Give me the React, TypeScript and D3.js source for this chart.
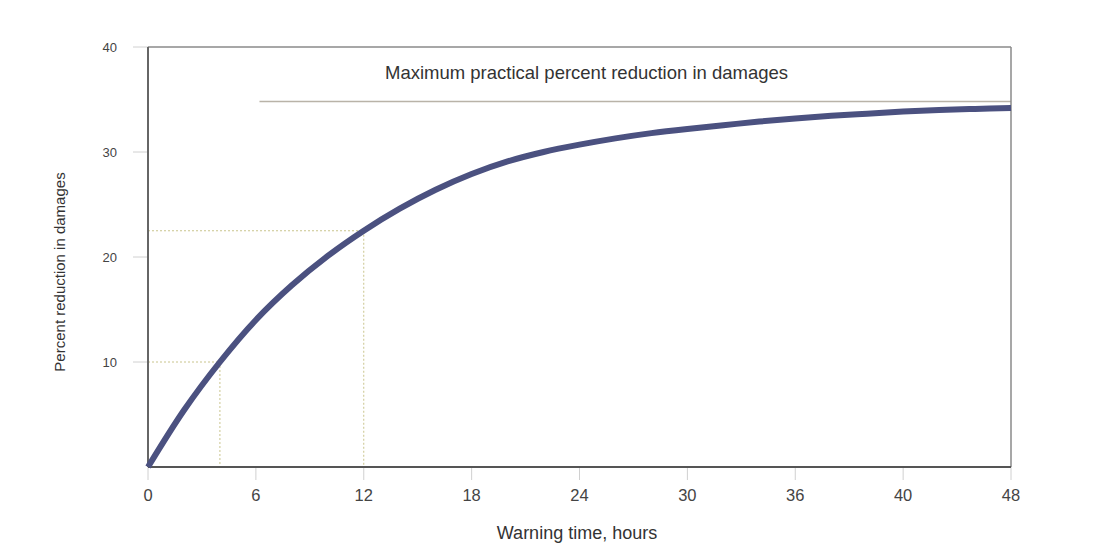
import React from "react";
import * as d3 from "d3";

const hours = [0, 2, 4, 6, 8, 10, 12, 14, 16, 18, 20, 22, 24, 26, 28, 30, 32, 34, 36, 38, 40, 42, 44, 46, 48];
const reduction = [0, 5.4, 10.0, 14.0, 17.3, 20.1, 22.5, 24.6, 26.4, 27.9, 29.1, 30.0, 30.7, 31.3, 31.8, 32.2, 32.55, 32.9, 33.2, 33.45, 33.65, 33.85, 34.0, 34.1, 34.2];

const xTickValues = [0, 6, 12, 18, 24, 30, 36, 42, 48];
const xTickLabels = ["0", "6", "12", "18", "24", "30", "36", "40", "48"];
const yTickValues = [10, 20, 30, 40];
const yTickLabels = ["10", "20", "30", "40"];

const maxPractical = 34.8;
const maxLineStart = 6.2;
const guides = [
  { t: 4, v: 10 },
  { t: 12, v: 22.5 },
];

const annotation = "Maximum practical percent reduction in damages";
const xTitle = "Warning time, hours";
const yTitle = "Percent reduction in damages";

const W = 1105;
const H = 555;
const M = { left: 148, right: 1011, top: 47, bottom: 467 };

export default function App() {
  const x = d3.scaleLinear().domain([0, 48]).range([M.left, M.right]);
  const y = d3.scaleLinear().domain([0, 40]).range([M.bottom, M.top]);
  const pts = hours.map((h, i) => [h, reduction[i]] as [number, number]);
  const line = d3
    .line<[number, number]>()
    .x((d) => x(d[0]))
    .y((d) => y(d[1]))
    .curve(d3.curveCatmullRom.alpha(0.5));
  const font = "Liberation Sans, Arial, sans-serif";
  return (
    <svg
      width={W}
      height={H}
      style={{ position: "absolute", left: 0, top: 0, background: "#fff" }}
      fontFamily={font}
    >
      <rect x={0} y={0} width={W} height={H} fill="#ffffff" />
      {/* y ticks */}
      {yTickValues.map((v, i) => (
        <g key={"y" + v}>
          <line x1={M.left - 15} x2={M.left} y1={y(v)} y2={y(v)} stroke="#d0d0d0" strokeWidth={1} />
          <text x={117} y={y(v)} dy="0.35em" textAnchor="end" fontSize={13} fill="#444">
            {yTickLabels[i]}
          </text>
        </g>
      ))}
      {/* x ticks */}
      {xTickValues.map((v, i) => (
        <g key={"x" + v}>
          <line x1={x(v)} x2={x(v)} y1={M.bottom} y2={M.bottom + 13} stroke="#d0d0d0" strokeWidth={1} />
          <text x={x(v)} y={495} dy="0.35em" textAnchor="middle" fontSize={16.5} fill="#444">
            {xTickLabels[i]}
          </text>
        </g>
      ))}
      {/* guides */}
      {guides.map((g) => (
        <g key={"g" + g.t}>
          <line x1={M.left} x2={x(g.t)} y1={y(g.v)} y2={y(g.v)} stroke="#c9c48c" strokeWidth={1} strokeDasharray="2,2" />
          <line x1={x(g.t)} x2={x(g.t)} y1={y(g.v)} y2={M.bottom} stroke="#c9c48c" strokeWidth={1} strokeDasharray="2,2" />
        </g>
      ))}
      {/* max practical line */}
      <line
        x1={x(maxLineStart)}
        x2={M.right}
        y1={y(maxPractical)}
        y2={y(maxPractical)}
        stroke="#b9b3a8"
        strokeWidth={1.5}
      />
      <text x={385} y={73} dy="0.35em" fontSize={18.5} fill="#333">
        {annotation}
      </text>
      {/* frame */}
      <line x1={M.left} x2={M.right} y1={M.top} y2={M.top} stroke="#8a8a8a" strokeWidth={1.5} />
      <line x1={M.right} x2={M.right} y1={M.top} y2={M.bottom} stroke="#8a8a8a" strokeWidth={1.5} />
      <line x1={M.left} x2={M.left} y1={M.top} y2={M.bottom} stroke="#666" strokeWidth={2} />
      <line x1={M.left} x2={M.right} y1={M.bottom} y2={M.bottom} stroke="#555" strokeWidth={2} />
      {/* curve */}
      <path d={line(pts) || ""} fill="none" stroke="#4b5180" strokeWidth={6} strokeLinecap="butt" />
      {/* titles */}
      <text x={577} y={533} dy="0.35em" textAnchor="middle" fontSize={18} fill="#333">
        {xTitle}
      </text>
      <text
        transform={`translate(60, 272) rotate(-90)`}
        dy="0.35em"
        textAnchor="middle"
        fontSize={15}
        fill="#333"
      >
        {yTitle}
      </text>
    </svg>
  );
}
